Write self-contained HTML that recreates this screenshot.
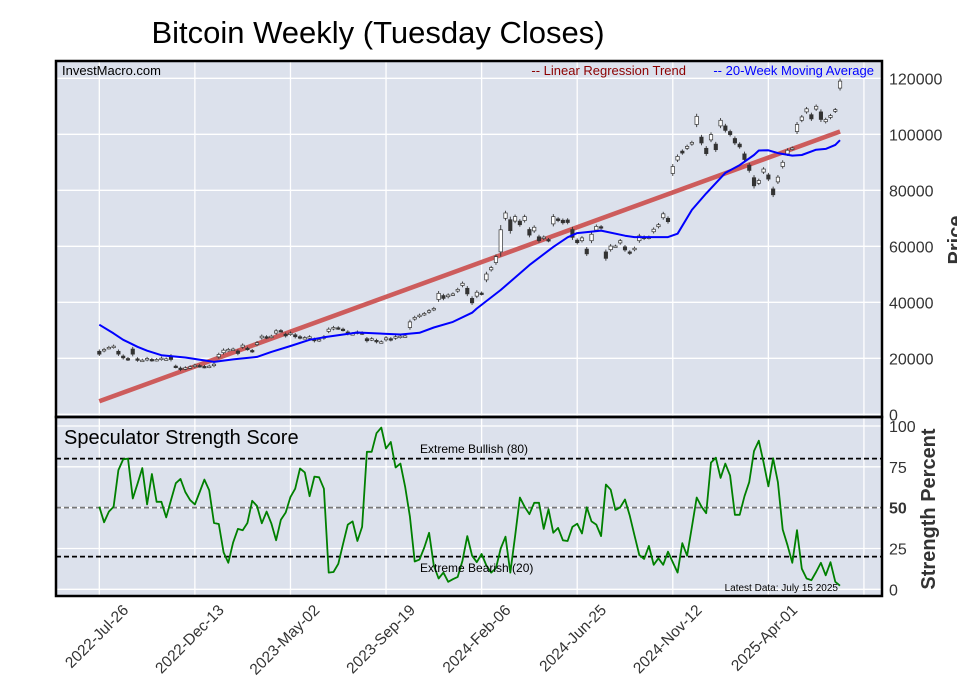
<!DOCTYPE html>
<html><head><meta charset="utf-8"><style>
body{margin:0;background:#fff;width:957px;height:694px;overflow:hidden;font-family:"Liberation Sans",Arial,sans-serif}
svg text{font-family:"Liberation Sans",Arial,sans-serif}
</style></head><body>
<svg id="chart" width="957" height="694" viewBox="0 0 957 694" xmlns="http://www.w3.org/2000/svg">
<text x="378" y="43" font-size="31" text-anchor="middle" fill="#000">Bitcoin Weekly (Tuesday Closes)</text>
<rect x="56" y="61" width="826" height="356" fill="#dce1ec"/>
<rect x="56" y="417" width="826" height="179" fill="#dce1ec"/>
<g id="grid"></g>
<g id="marks"></g>
<rect x="56" y="61" width="826" height="356" fill="none" stroke="#000" stroke-width="2.5"/>
<rect x="56" y="417" width="826" height="179" fill="none" stroke="#000" stroke-width="2.5"/>
<text x="62" y="75" font-size="13" fill="#000">InvestMacro.com</text>
<text x="686" y="75" font-size="13" text-anchor="end" fill="#8b0000">-- Linear Regression Trend</text>
<text x="874" y="75" font-size="13" text-anchor="end" fill="#0000ff">-- 20-Week Moving Average</text>
<text x="64" y="444" font-size="20" fill="#000">Speculator Strength Score</text>
<text x="420" y="453" font-size="12" fill="#000">Extreme Bullish (80)</text>
<text x="420" y="572" font-size="12" fill="#000">Extreme Bearish (20)</text>
<text x="838" y="591" font-size="10" text-anchor="end" fill="#000">Latest Data: July 15 2025</text>
<text transform="translate(962,240) rotate(-90)" font-size="20" font-weight="bold" text-anchor="middle" fill="#333">Price</text>
<text transform="translate(935,509) rotate(-90)" font-size="20" font-weight="bold" text-anchor="middle" fill="#333">Strength Percent</text>
</svg>
<script>
const weekLabels=["2022-Jul-26","2022-Dec-13","2023-May-02","2023-Sep-19","2024-Feb-06","2024-Jun-25","2024-Nov-12","2025-Apr-01"];
const priceTicks=[0,20000,40000,60000,80000,100000,120000];
const strengthTicks=[0,25,50,75,100];
const closes=[21480,23160,23900,24340,21500,20150,19580,21480,19330,19330,19940,19330,19580,20050,19800,19580,16950,16000,16600,16950,17540,17200,16950,17200,17900,21370,22900,23160,23300,21730,24700,23300,22500,25530,27900,27400,27900,29800,29800,28000,29000,27700,27300,27400,27700,26260,26700,27700,30400,31000,30700,30100,28800,28800,29400,28900,26260,27000,25900,25900,27300,26600,27700,27900,28000,33000,34600,35400,36000,37000,37800,43200,41400,42600,43000,44600,46800,43000,39800,43600,43000,50100,52400,56300,65900,71900,65600,70600,67700,70600,64000,66800,62000,63300,62000,70600,69200,68400,68500,63200,61300,63000,57300,64300,67100,66600,55700,60100,60100,62000,58700,57500,59300,63700,62800,63300,66100,67700,71600,68800,88500,92100,93300,95700,97100,106400,96900,93100,99900,94500,105000,101400,99900,96900,95500,91000,87100,81600,83500,87600,84000,78400,84700,90000,94300,95100,103500,106200,109100,105500,110000,105300,105300,106700,108800,119000];
const opens=[22500,22700,23700,24000,22500,20800,19900,23300,19800,19200,19500,19600,19400,19700,19800,20800,17200,16500,16300,16700,17200,17400,17100,17000,17400,20500,22000,22900,23200,22600,24000,23600,22800,24900,27300,27700,27700,29000,29900,28600,28600,28400,27700,27400,27500,26800,26400,27200,29600,30600,30900,30400,29400,28800,29100,29100,27000,26700,26400,25800,26600,27000,27200,27600,27900,31000,34000,35000,35700,36500,37400,41000,42400,42000,42800,44000,46000,45000,41400,42200,43300,48000,51600,54200,58000,70000,69500,69000,69000,69200,66000,65500,63400,62800,62400,68000,69800,69300,69400,66000,62200,62000,59000,62000,65800,67000,58000,58800,60100,61200,59800,58000,58800,62000,63300,63000,65200,67000,70200,70000,86000,90800,94000,95000,96500,103500,99000,95000,98000,96500,103000,103000,101000,98500,96500,93000,89000,84500,82500,86500,85500,80500,83000,88500,93000,94800,101000,105000,108000,107000,109000,108000,104500,106000,108200,116500];
const maIdx=[0,3,5,8,10,13,18,24,28,33,36,40,44,47,54,58,63,67,70,74,78,79,84,90,95,98,100,105,110,112,119,121,124,127,131,134,137,138,140,142,145,147,150,152,154,155];
const maVals=[32000,28900,26600,24100,22700,21100,20300,18700,19600,20500,22300,24400,26600,27500,29200,28900,28500,29100,31000,33000,36300,37800,44400,53300,59800,63200,64700,65600,63800,63300,63300,64500,73000,78900,86200,89000,92600,94200,94300,93300,92400,92600,94500,94800,96200,97900];
const regStart=4650, regEnd=101000;
const strength=[50.6,41,47.6,50.6,73,79.6,80,55.6,64.6,74.2,52,70.6,53.6,53.6,44,54.6,65,67.6,59.6,54.6,52,59.6,67.2,60.6,40.6,40,22.6,16.2,28.6,37,36.2,40.6,54.2,51,40.4,47.6,40.4,30,42.6,47,56.6,61.6,74,71.6,57,69,68.6,61.6,10.2,10.6,15.6,27.6,39.6,41.6,29.6,38.2,84.2,84.2,95.6,99,86.2,90.2,74.6,77,62.6,44.6,17,18.2,25.6,34.6,14.6,6.6,10.2,4.6,6.2,7.6,17.6,32.6,20.6,16.6,21.6,14.6,10.2,13,25,32.2,10.2,32.6,56.2,50.6,46,53,53,37,49,34.6,37.6,30,29.6,38.2,40.2,34.2,50.2,41.6,39.6,32.6,64.2,61,48.6,50.2,55,45,33,21,18.6,26.6,15,19,15,23,16.6,10.2,28.2,20.6,38.2,56.2,50.6,46.6,77.6,80.6,68.2,77,69.6,45.6,45.6,57,65.6,84.6,91,77.6,63,80.2,65.6,36.6,27,16.2,36.2,12.6,6.6,5.6,10.6,16.2,8.6,16.6,4.6,2.2];

const NS="http://www.w3.org/2000/svg";
const X0=99.3, DX=4.779;
const xAt=i=>X0+i*DX;
const yP=v=>414.3-v*0.0028;
const yS=v=>589.3-v*1.633;
const grid=document.getElementById('grid'), marks=document.getElementById('marks'), svg=document.getElementById('chart');
function mk(tag,attrs,parent){const e=document.createElementNS(NS,tag);for(const k in attrs)e.setAttribute(k,attrs[k]);parent.appendChild(e);return e;}

for(let k=0;k<=8;k++){
  const x=xAt(k*20);
  const g1=mk('line',{x1:x,x2:x,y1:61,y2:417,stroke:'#fff','stroke-width':1.3},grid);
  
  
  const g2=mk('line',{x1:x,x2:x,y1:417,y2:596,stroke:'#fff','stroke-width':1.3},grid);
  
  
}
weekLabels.forEach((lab,k)=>{
  const x=xAt(k*20)+30, y=611;
  const t=mk('text',{transform:`translate(${x},${y}) rotate(-45)`,'font-size':15.5,'text-anchor':'end',fill:'#333'},svg);
  t.textContent=lab;
  
  
});
priceTicks.forEach(v=>{
  const y=yP(v);
  const l=mk('line',{x1:56,x2:882,y1:y,y2:y,stroke:'#fff','stroke-width':1.3},grid);
  
  
  const t=mk('text',{x:889,y:y+6,'font-size':16,fill:'#333'},svg);
  t.textContent=v;
  
  
});
strengthTicks.forEach(v=>{
  const y=yS(v);
  const l=mk('line',{x1:56,x2:882,y1:y,y2:y,stroke:'#fff','stroke-width':1.3},grid);
  
  
  const t=mk('text',{x:889,y:y+6,'font-size':16,fill:'#333','font-weight':v===50?'bold':'normal'},svg);
  t.textContent=v;
  
  
});
[[80,'#000','extreme-bullish-line'],[50,'#777','neutral-line'],[20,'#000','extreme-bearish-line']].forEach(r=>{
  const l=mk('line',{x1:56,x2:882,y1:yS(r[0]),y2:yS(r[0]),stroke:r[1],'stroke-width':1.8,'stroke-dasharray':'5,3'},marks);
  
  
});
const reg=mk('line',{x1:xAt(0),y1:yP(regStart),x2:xAt(closes.length-1),y2:yP(regEnd),stroke:'#cd5c5c','stroke-width':4.5},marks);


closes.forEach((c,i)=>{
  const o=opens[i], x=xAt(i);
  const top=Math.max(o,c), bot=Math.min(o,c);
  const hi=top+Math.abs(o-c)*0.15+500, lo=bot-Math.abs(o-c)*0.15-500;
  const g=mk('g',{},marks);
  
  
  mk('line',{x1:x,x2:x,y1:yP(hi),y2:yP(lo),stroke:'#333','stroke-width':0.9},g);
  const h=Math.max(1.5,yP(bot)-yP(top));
  mk('rect',{x:x-1.7,y:yP(top),width:3.4,height:h,fill:c<o?'#333':'#fff',stroke:'#333','stroke-width':0.7},g);
});
let d='';
maIdx.forEach((ix,k)=>{d+=(k?'L':'M')+xAt(ix).toFixed(1)+','+yP(maVals[k]).toFixed(1);});
const ma=mk('path',{d:d,fill:'none',stroke:'#0000ff','stroke-width':2,'stroke-linejoin':'round'},marks);


let d2='';
strength.forEach((v,i)=>{d2+=(i?'L':'M')+xAt(i).toFixed(1)+','+yS(v).toFixed(1);});
const sl=mk('path',{d:d2,fill:'none',stroke:'#008000','stroke-width':1.8,'stroke-linejoin':'round'},marks);


</script>
</body></html>
